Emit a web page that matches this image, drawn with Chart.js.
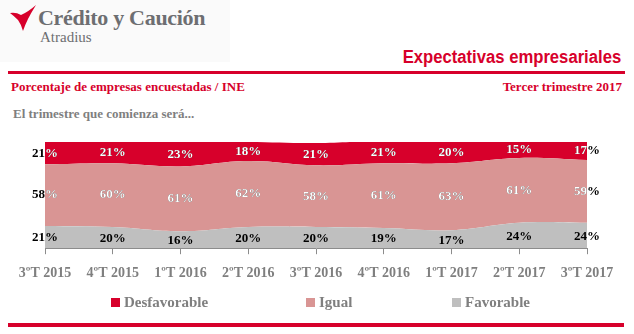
<!DOCTYPE html>
<html>
<head>
<meta charset="utf-8">
<script src="https://cdn.jsdelivr.net/npm/chart.js@4"></script>
<style>
  body { margin: 0; background: #fff; }
  #wrap { position: relative; width: 634px; height: 334px; overflow: hidden; font-family: "Liberation Serif", serif; }
  .abs { position: absolute; white-space: nowrap; }
  .red { color: #d7002b; }
  .gray { color: #7f7f7f; }
  .rule { position: absolute; background: #d7002b; }
  .box { position: absolute; width: 9px; height: 9px; }
</style>
</head>
<body>
<div id="wrap">
  <!-- logo -->
  <div class="abs" style="left:0;top:0;width:230px;height:62px;background:#fafafa;"></div>
  <svg class="abs" style="left:0;top:0" width="40" height="36">
    <path d="M10,13 Q16,12 21,15 Q28,12 36,5 Q31,13 28,19 Q25,25 23,31 Q21,24 18,20 Q14,16 10,13 Z" fill="#d7002b"/>
  </svg>
  <div class="abs" style="left:38px;top:5px;font-size:22px;font-weight:bold;color:#6d6e71;letter-spacing:-0.3px;">Crédito y Caución</div>
  <div class="abs" style="left:40px;top:29px;font-size:15px;color:#6d6e71;">Atradius</div>

  <div class="abs red" style="right:13px;top:47px;font-family:'Liberation Sans',sans-serif;font-size:18px;font-weight:bold;transform:scaleX(0.925);transform-origin:right center;">Expectativas empresariales</div>
  <div class="rule" style="left:8px;top:71px;width:617px;height:3px;"></div>

  <div class="abs red" style="left:11px;top:79px;font-size:13px;font-weight:bold;">Porcentaje de empresas encuestadas / INE</div>
  <div class="abs red" style="right:12px;top:79px;font-size:13px;font-weight:bold;">Tercer trimestre 2017</div>
  <div class="abs gray" style="left:13px;top:106px;font-size:13px;font-weight:bold;">El trimestre que comienza será...</div>

  <div class="abs" style="left:0;top:125px;width:634px;height:170px;">
    <canvas id="chart"></canvas>
  </div>

  <!-- leyenda -->
  <div class="box" style="left:111px;top:298px;background:#d7002b;"></div>
  <div class="abs gray" style="left:124px;top:294px;font-size:15px;font-weight:bold;">Desfavorable</div>
  <div class="box" style="left:306px;top:298px;background:#d99594;"></div>
  <div class="abs gray" style="left:319px;top:294px;font-size:15px;font-weight:bold;">Igual</div>
  <div class="box" style="left:452px;top:298px;background:#bfbfbf;"></div>
  <div class="abs gray" style="left:465px;top:294px;font-size:15px;font-weight:bold;">Favorable</div>

  <div class="rule" style="left:8px;top:323px;width:616px;height:4px;"></div>
</div>

<script>
// Datos
const trimestres = ["3ºT 2015", "4ºT 2015", "1ºT 2016", "2ºT 2016", "3ºT 2016", "4ºT 2016", "1ºT 2017", "2ºT 2017", "3ºT 2017"];
const favorable = [21, 20, 16, 20, 20, 19, 17, 24, 24];
const igual = [58, 60, 61, 62, 58, 61, 63, 61, 59];
const desfavorable = [21, 21, 23, 18, 21, 21, 20, 15, 17];

/**
 * Escribe el porcentaje en el centro de cada banda.
 * Fuera del área del gráfico el texto queda negro, dentro usa el color de la serie.
 */
const bandLabels = {
  id: "bandLabels",
  afterDatasetsDraw(chart) {
    const ctx = chart.ctx;
    const area = chart.chartArea;
    const yScale = chart.scales.y;
    ctx.save();
    ctx.font = 'bold 13px "Liberation Serif", serif';
    ctx.textAlign = "center";
    ctx.textBaseline = "middle";
    chart.data.datasets.forEach((ds, di) => {
      const meta = chart.getDatasetMeta(di);
      const prev = di > 0 ? chart.getDatasetMeta(di - 1) : null;
      meta.data.forEach((pt, i) => {
        const top = Math.max(pt.y, area.top);
        const bottom = prev ? prev.data[i].y : yScale.getPixelForValue(0);
        const y = (top + bottom) / 2 + (di === 0 ? 1 : 0);
        const text = ds.data[i] + "%";
        ctx.fillStyle = "#000";
        ctx.fillText(text, pt.x, y);
        if (ds.labelColor !== "#000") {
          ctx.save();
          ctx.beginPath();
          ctx.rect(area.left, area.top, area.right - area.left, area.bottom - area.top);
          ctx.clip();
          ctx.fillStyle = ds.labelColor;
          ctx.fillText(text, pt.x, y);
          ctx.restore();
        }
      });
    });
    ctx.restore();
  },
};

new Chart(document.getElementById("chart"), {
  type: "line",
  data: {
    labels: trimestres,
    datasets: [
      {
        label: "Favorable",
        data: favorable,
        backgroundColor: "#bfbfbf",
        fill: "origin",
        labelColor: "#000",
      },
      {
        label: "Igual",
        data: igual,
        backgroundColor: "#d99594",
        fill: "-1",
        labelColor: "#fff",
      },
      {
        label: "Desfavorable",
        data: desfavorable,
        backgroundColor: "#d7002b",
        fill: "-1",
        labelColor: "#fff",
      },
    ],
  },
  options: {
    responsive: true,
    maintainAspectRatio: false,
    animation: false,
    layout: { padding: { left: 45, right: 47, top: 17, bottom: 2 } },
    elements: {
      point: { radius: 0 },
      line: { borderWidth: 0, tension: 0.4 },
    },
    plugins: {
      legend: { display: false },
      tooltip: { enabled: false },
    },
    scales: {
      y: { display: false, stacked: true, min: 0, max: 100 },
      x: {
        offset: false,
        border: { color: "#8c8c8c", width: 1 },
        grid: { drawOnChartArea: false, tickLength: 6, color: "#8c8c8c" },
        ticks: {
          autoSkip: false,
          maxRotation: 0,
          padding: 11,
          color: "#7f7f7f",
          font: { family: '"Liberation Serif", serif', size: 14, weight: "bold" },
        },
      },
    },
  },
  plugins: [bandLabels],
});
</script>
</body>
</html>
